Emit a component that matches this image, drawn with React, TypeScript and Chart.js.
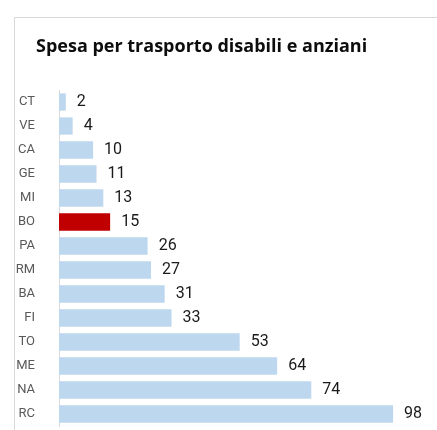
import React, { useEffect, useRef } from "react";
import { Chart, registerables } from "chart.js";

Chart.register(...registerables);

const categories = ["CT", "VE", "CA", "GE", "MI", "BO", "PA", "RM", "BA", "FI", "TO", "ME", "NA", "RC"];
const values = [2, 4, 10, 11, 13, 15, 26, 27, 31, 33, 53, 64, 74, 98];
const highlighted = "BO";
const titleText = "Spesa per trasporto disabili e anziani";

const AREA_TOP = 90;
const AREA_BOTTOM = 426;

const dataLabels = {
  id: "dataLabels",
  afterDatasetsDraw(chart: any) {
    const ctx = chart.ctx;
    const meta = chart.getDatasetMeta(0);
    ctx.save();
    ctx.font = `16px Roboto, sans-serif`;
    ctx.fillStyle = "#1A1A1A";
    ctx.textAlign = "left";
    ctx.textBaseline = "middle";
    meta.data.forEach((el: any, i: number) => {
      ctx.fillText(String(values[i]), el.x + 11, el.y);
    });
    ctx.restore();
  },
};

export default function App() {
  const ref = useRef<HTMLCanvasElement | null>(null);
  useEffect(() => {
    if (!ref.current) return;
    const padding = { left: 0, right: 3, top: AREA_TOP, bottom: 430 - AREA_BOTTOM };
    const chart = new Chart(ref.current, {
      type: "bar",
      data: {
        labels: categories,
        datasets: [
          {
            data: values,
            backgroundColor: categories.map((c) => (c === highlighted ? "#C00000" : "#BDD7EE")),
            barPercentage: 0.9,
            categoryPercentage: 0.8,
          },
        ],
      },
      options: {
        indexAxis: "y",
        responsive: false,
        maintainAspectRatio: false,
        animation: false,
        layout: { autoPadding: false, padding },
        plugins: { legend: { display: false }, tooltip: { enabled: false } },
        scales: {
          x: { display: false, min: 0, max: 110 },
          y: {
            grid: { display: false },
            border: { display: true, color: "#D9D9D9", width: 1 },
            ticks: { color: "#595959", font: { family: "Roboto, sans-serif", size: 13 }, padding: 16 },
            afterFit: (scale: any) => {
              scale.width = 59;
              scale.paddingTop = 0;
              scale.paddingBottom = 0;
            },
          },
        },
      },
      plugins: [dataLabels],
    });
    // correct any extra space reserved by the layout so the plot area spans the intended band
    const ca = chart.chartArea;
    const dTop = ca.top - AREA_TOP;
    const dBottom = AREA_BOTTOM - ca.bottom;
    if (Math.abs(dTop) > 0.5 || Math.abs(dBottom) > 0.5) {
      (chart.options.layout as any).padding = {
        ...padding,
        top: padding.top - dTop,
        bottom: padding.bottom - dBottom,
      };
      chart.update();
    }
    return () => chart.destroy();
  }, []);
  return (
    <div>
      <div
        style={{
          position: "absolute",
          left: 14,
          top: 17,
          width: 423,
          height: 413,
          boxSizing: "border-box",
          borderTop: "1px solid #D9D9D9",
          borderLeft: "1px solid #D9D9D9",
        }}
      />
      <canvas
        ref={ref}
        width={437}
        height={430}
        style={{ position: "absolute", left: 0, top: 0, width: 437, height: 430 }}
      />
      <div
        style={{
          position: "absolute",
          left: 36,
          top: 34,
          font: `bold 18px 'Open Sans', sans-serif`,
          color: "#0D0D0D",
          whiteSpace: "nowrap",
          lineHeight: "22px",
        }}
      >
        {titleText}
      </div>
    </div>
  );
}
